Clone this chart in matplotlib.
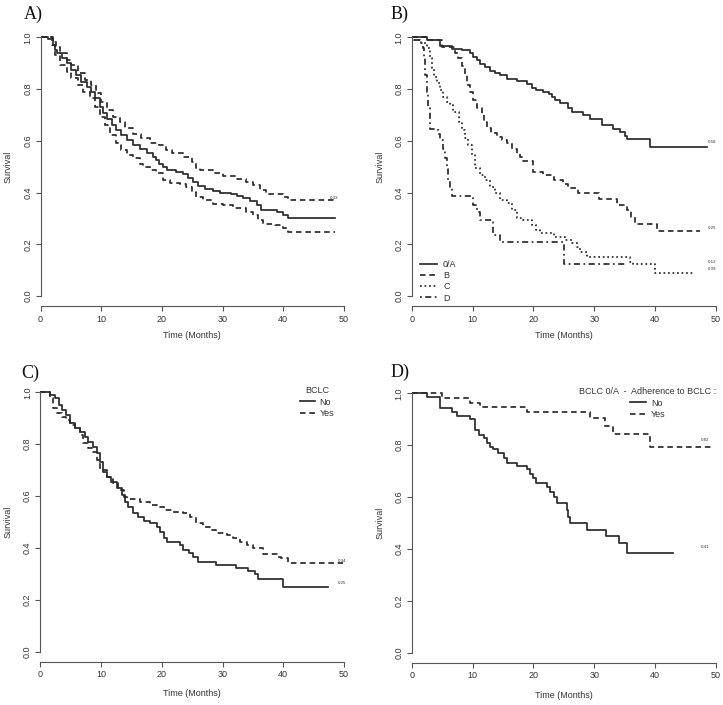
import matplotlib
matplotlib.use("Agg")
import matplotlib.pyplot as plt
from matplotlib.ticker import FormatStrFormatter

plt.rcParams['font.family'] = ['Liberation Sans', 'DejaVu Sans']

#Panel A - overall survival with confidence band
a_time = [0, 1.3, 2.1, 2.4, 2.7, 3.5, 4.3, 5.1, 5.9, 6.75, 7.6, 8.4, 9.0, 9.8, 10.3, 10.9, 11.7, 12.5, 13.3, 14.2,
          15.3, 16.4, 17.5, 18.6, 19.1, 19.6, 20.2, 20.8, 22.4, 23.5, 24.3, 25.1, 26.0, 27.1, 28.4, 29.5, 31.4,
          32.3, 33.4, 34.5, 35.6, 36.4, 38.9, 40.0, 40.8, 48.5]
a_surv = [1.0, 0.995, 0.97, 0.95, 0.938, 0.919, 0.90, 0.874, 0.854, 0.828, 0.809, 0.79, 0.764, 0.732, 0.706, 0.686,
          0.66, 0.641, 0.622, 0.603, 0.583, 0.57, 0.551, 0.538, 0.525, 0.512, 0.497, 0.486, 0.48, 0.471, 0.458,
          0.441, 0.425, 0.415, 0.406, 0.40, 0.396, 0.386, 0.377, 0.368, 0.351, 0.334, 0.325, 0.312, 0.302, 0.302]
a_up_time = [0, 2.1, 2.6, 3.2, 4.3, 5.1, 6.2, 7.3, 8.4, 9.2, 10.0, 10.9, 12.0, 13.1, 13.9, 15.3, 16.6, 18.0, 19.6,
             20.7, 21.6, 23.5, 24.9, 25.7, 26.2, 28.4, 30.1, 32.3, 33.9, 35.0, 36.1, 37.2, 40.0, 40.8, 48.5]
a_up_surv = [1.0, 0.983, 0.964, 0.938, 0.912, 0.893, 0.861, 0.835, 0.815, 0.783, 0.751, 0.719, 0.693, 0.674, 0.648,
             0.628, 0.609, 0.59, 0.583, 0.564, 0.551, 0.538, 0.519, 0.493, 0.486, 0.474, 0.463, 0.454, 0.441, 0.428,
             0.409, 0.396, 0.383, 0.373, 0.373]
a_lo_time = [0, 1.9, 2.4, 3.2, 4.3, 5.1, 6.2, 7.0, 8.1, 8.9, 9.8, 10.6, 11.4, 12.5, 13.3, 14.2, 15.3, 16.4, 16.9,
             18.0, 19.1, 20.2, 21.3, 22.9, 24.0, 24.9, 25.7, 26.8, 28.4, 30.1, 31.7, 33.9, 35.0, 35.8, 36.7, 38.6,
             40.0, 40.8, 48.5]
a_lo_surv = [1.0, 0.97, 0.932, 0.893, 0.867, 0.841, 0.815, 0.79, 0.764, 0.732, 0.693, 0.661, 0.622, 0.59, 0.564,
             0.545, 0.532, 0.512, 0.50, 0.486, 0.476, 0.45, 0.437, 0.432, 0.422, 0.403, 0.381, 0.37, 0.357, 0.351,
             0.342, 0.325, 0.312, 0.293, 0.28, 0.274, 0.261, 0.248, 0.248]

#Panel B - survival by BCLC stage
b_oa_time = [0, 2.5, 4.65, 6.6, 8.2, 9.6, 10.1, 10.7, 11.2, 12.0, 12.9, 13.7, 14.5, 15.6, 17.3, 18.9, 19.7, 20.5,
             21.6, 22.5, 23.0, 23.5, 24.4, 25.7, 26.3, 28.2, 29.3, 31.2, 33.1, 34.2, 35.0, 35.4, 39.2, 48.5]
b_oa_surv = [1.0, 0.99, 0.968, 0.955, 0.95, 0.938, 0.925, 0.912, 0.895, 0.886, 0.871, 0.863, 0.854, 0.84, 0.832,
             0.818, 0.805, 0.796, 0.787, 0.78, 0.77, 0.757, 0.745, 0.725, 0.71, 0.70, 0.684, 0.66, 0.645, 0.635,
             0.62, 0.605, 0.577, 0.577]
b_b_time = [0, 2.5, 4.9, 7.1, 7.6, 8.2, 8.8, 9.1, 9.6, 10.1, 10.8, 11.5, 11.9, 12.3, 13.1, 14.0, 14.8, 15.6, 16.4,
            17.3, 17.8, 18.2, 19.9, 21.6, 23.3, 24.9, 25.7, 27.4, 30.7, 33.7, 35.3, 36.1, 36.7, 40.3, 47.4]
b_b_surv = [1.0, 0.99, 0.964, 0.938, 0.92, 0.89, 0.854, 0.815, 0.79, 0.757, 0.725, 0.70, 0.674, 0.648, 0.632, 0.615,
            0.603, 0.59, 0.57, 0.55, 0.538, 0.52, 0.48, 0.468, 0.449, 0.434, 0.417, 0.397, 0.374, 0.352, 0.333,
            0.307, 0.277, 0.252, 0.252]
b_c_time = [0, 0.3, 1.6, 2.5, 3.0, 3.3, 3.6, 4.1, 4.65, 5.2, 5.75, 6.3, 6.8, 7.7, 8.2, 8.8, 9.3, 9.9, 10.4, 11.2,
            12.0, 12.9, 13.7, 14.5, 15.6, 16.4, 17.3, 18.3, 19.7, 20.5, 21.1, 23.3, 25.2, 26.3, 27.1, 27.7, 28.8,
            35.9, 36.4, 40.0, 46.3]
b_c_surv = [1.0, 0.99, 0.977, 0.957, 0.92, 0.88, 0.848, 0.822, 0.796, 0.77, 0.748, 0.738, 0.712, 0.674, 0.641,
            0.609, 0.583, 0.545, 0.494, 0.468, 0.449, 0.423, 0.397, 0.372, 0.359, 0.333, 0.30, 0.292, 0.275, 0.255,
            0.243, 0.227, 0.217, 0.204, 0.188, 0.172, 0.152, 0.133, 0.123, 0.09, 0.09]
b_d_time = [0, 0.3, 1.4, 1.8, 2.0, 2.2, 2.5, 2.7, 3.0, 4.4, 4.65, 5.2, 5.5, 5.75, 6.0, 6.3, 6.6, 10.1, 10.7, 11.2,
            13.4, 14.5, 25.1, 35.3]
b_d_surv = [1.0, 0.99, 0.977, 0.957, 0.92, 0.854, 0.79, 0.725, 0.645, 0.628, 0.603, 0.57, 0.532, 0.49, 0.45, 0.423,
            0.385, 0.352, 0.326, 0.294, 0.236, 0.208, 0.123, 0.123]

#Panel C - adherence to BCLC
c_no_time = [0, 1.6, 2.4, 3.0, 3.5, 4.3, 4.9, 5.7, 6.5, 7.4, 7.9, 8.7, 9.3, 9.8, 10.4, 10.9, 11.7, 12.6, 13.4, 13.9,
             14.5, 15.3, 16.1, 17.0, 18.0, 19.2, 19.7, 20.3, 20.8, 23.0, 23.5, 24.4, 25.2, 26.0, 29.0, 32.3, 34.2,
             35.3, 35.9, 40.0, 47.4]
c_no_surv = [1.0, 0.99, 0.977, 0.95, 0.93, 0.913, 0.88, 0.861, 0.848, 0.829, 0.81, 0.79, 0.765, 0.733, 0.694, 0.675,
             0.655, 0.63, 0.604, 0.578, 0.559, 0.533, 0.52, 0.505, 0.495, 0.482, 0.463, 0.437, 0.424, 0.411, 0.392,
             0.382, 0.366, 0.347, 0.334, 0.321, 0.312, 0.30, 0.279, 0.251, 0.251]
c_yes_time = [0, 1.6, 2.1, 2.7, 3.5, 4.3, 4.9, 5.7, 6.5, 7.1, 7.9, 8.7, 9.3, 9.8, 10.9, 12.0, 12.8, 13.7, 14.2, 16.4,
              18.0, 19.2, 20.3, 21.9, 23.5, 24.6, 25.7, 26.8, 27.9, 29.0, 30.7, 31.8, 32.9, 34.0, 35.1, 36.7, 38.9,
              39.7, 40.8, 49.9]
c_yes_surv = [1.0, 0.977, 0.938, 0.919, 0.906, 0.893, 0.874, 0.861, 0.835, 0.803, 0.784, 0.771, 0.739, 0.70, 0.675,
              0.649, 0.623, 0.598, 0.59, 0.578, 0.566, 0.559, 0.546, 0.54, 0.533, 0.52, 0.495, 0.482, 0.469, 0.456,
              0.45, 0.437, 0.424, 0.411, 0.398, 0.377, 0.366, 0.36, 0.341, 0.341]

#Panel D - BCLC 0/A adherence
d_no_time = [0, 2.5, 4.65, 6.6, 7.4, 9.6, 10.4, 11.0, 11.8, 12.3, 12.9, 13.4, 14.2, 15.1, 15.6, 17.3, 18.9, 19.4,
             20.0, 20.5, 22.2, 22.7, 23.3, 23.8, 25.5, 25.7, 26.0, 28.8, 32.0, 34.0, 35.3, 43.0]
d_no_surv = [1.0, 0.985, 0.942, 0.929, 0.914, 0.901, 0.859, 0.839, 0.826, 0.807, 0.794, 0.784, 0.769, 0.752, 0.733,
             0.72, 0.707, 0.689, 0.672, 0.656, 0.638, 0.621, 0.602, 0.576, 0.55, 0.524, 0.501, 0.473, 0.45, 0.422,
             0.383, 0.383]
d_yes_time = [0, 4.9, 9.6, 11.2, 18.9, 29.3, 31.8, 33.1, 39.2, 49.6]
d_yes_surv = [1.0, 0.98, 0.964, 0.946, 0.929, 0.904, 0.874, 0.843, 0.794, 0.794]

W, H = 723, 705
fig = plt.figure(figsize=(W / 100, H / 100), dpi=100)

line_col = '#2a2a2a'
axis_col = '#555555'
text_col = '#333333'
fs = 6.5
lw = 1.25
dashed = (0, (3.2, 2.2))
dotted = (0, (1, 1.6))
dotdash = (0, (1, 2, 3.5, 2))


def make_panel(x0, x50, y1, y0, letter, letter_xy, xlab_y, ylab_x):
    #pixel calibration of the 0/50 months and 1.0/0.0 survival marks
    sx = (x50 - x0) / 50.0
    sy = (y0 - y1)
    xl = (0, 51)
    yl = (-0.04, 1.02)
    left = x0 + xl[0] * sx
    right = x0 + xl[1] * sx
    top = y0 - yl[1] * sy
    bottom = y0 - yl[0] * sy
    ax = fig.add_axes([left / W, 1 - bottom / H, (right - left) / W, (bottom - top) / H])
    ax.set_xlim(*xl)
    ax.set_ylim(*yl)
    for side in ['top', 'right']:
        ax.spines[side].set_visible(False)
    ax.spines['left'].set_bounds(0, 1)
    ax.spines['bottom'].set_bounds(0, 50)
    for side in ['left', 'bottom']:
        ax.spines[side].set_color(axis_col)
        ax.spines[side].set_linewidth(0.8)
    ax.set_xticks(range(0, 51, 10))
    ax.set_yticks([0, 0.2, 0.4, 0.6, 0.8, 1.0])
    ax.yaxis.set_major_formatter(FormatStrFormatter('%.1f'))
    ax.tick_params(direction='out', length=3.5, width=0.8, color=axis_col, labelcolor=text_col,
                   labelsize=fs, pad=2.5)
    plt.setp(ax.get_yticklabels(), rotation=90, va='center')
    fig.text((x0 + 25 * sx) / W, 1 - xlab_y / H, 'Time (Months)', ha='center', va='center',
             fontsize=fs, color=text_col)
    fig.text(ylab_x / W, 1 - (y0 - 0.5 * sy) / H, 'Survival', ha='center', va='center', rotation=90,
             fontsize=fs, color=text_col)
    fig.text(letter_xy[0] / W, 1 - letter_xy[1] / H, letter, ha='left', va='center',
             fontsize=13, family='Liberation Serif', color='#111111')
    return ax


axA = make_panel(40.5, 344, 37.3, 296, 'A)', (24, 14), 336, 8.3)
axB = make_panel(411.7, 716, 37.3, 296, 'B)', (391, 14), 336, 380)
axC = make_panel(40.3, 344, 392.3, 651.7, 'C)', (21, 373), 693, 8.3)
axD = make_panel(411.7, 716, 393.3, 652.7, 'D)', (391, 372), 695, 380)

#A)
axA.plot(a_time, a_surv, drawstyle='steps-post', color=line_col, lw=lw)
axA.plot(a_up_time, a_up_surv, drawstyle='steps-post', color=line_col, lw=lw, linestyle=dashed)
axA.plot(a_lo_time, a_lo_surv, drawstyle='steps-post', color=line_col, lw=lw, linestyle=dashed)
axA.text(48.3, 0.38, '0.33', fontsize=3.2, ha='center', va='center', color=text_col)

#B)
axB.plot(b_oa_time, b_oa_surv, drawstyle='steps-post', color=line_col, lw=lw, label='0/A')
axB.plot(b_b_time, b_b_surv, drawstyle='steps-post', color=line_col, lw=lw, linestyle=dashed, label='B')
axB.plot(b_c_time, b_c_surv, drawstyle='steps-post', color=line_col, lw=lw, linestyle=dotted, label='C')
axB.plot(b_d_time, b_d_surv, drawstyle='steps-post', color=line_col, lw=lw, linestyle=dotdash, label='D')
for lab, yy in [('0.58', 0.594), ('0.25', 0.262), ('0.12', 0.133), ('0.09', 0.104)]:
    axB.text(49.3, yy, lab, fontsize=3.2, ha='center', va='center', color=text_col)
legB = axB.legend(loc='upper left', bbox_to_anchor=(1.3, 0.14), bbox_transform=axB.transData,
                  frameon=False, fontsize=fs, handlelength=1.9, handletextpad=0.7, labelspacing=0.25,
                  borderpad=0, borderaxespad=0)
for t in legB.get_texts():
    t.set_color(text_col)

#C)
axC.plot(c_no_time, c_no_surv, drawstyle='steps-post', color=line_col, lw=lw, label='No')
axC.plot(c_yes_time, c_yes_surv, drawstyle='steps-post', color=line_col, lw=lw, linestyle=dashed, label='Yes')
axC.text(49.7, 0.351, '0.34', fontsize=3.2, ha='center', va='center', color=text_col)
axC.text(49.7, 0.264, '0.25', fontsize=3.2, ha='center', va='center', color=text_col)
legC = axC.legend(loc='upper center', bbox_to_anchor=(45.6, 1.025), bbox_transform=axC.transData,
                  title='BCLC', title_fontsize=fs, frameon=False, fontsize=fs, handlelength=1.6,
                  handletextpad=0.5, labelspacing=0.3, borderpad=0, borderaxespad=0)
plt.setp(legC.get_texts(), color=text_col)
legC.get_title().set_color(text_col)

#D)
axD.plot(d_no_time, d_no_surv, drawstyle='steps-post', color=line_col, lw=lw, label='No')
axD.plot(d_yes_time, d_yes_surv, drawstyle='steps-post', color=line_col, lw=lw, linestyle=dashed, label='Yes')
axD.text(48.2, 0.82, '0.82', fontsize=3.2, ha='center', va='center', color=text_col)
axD.text(48.2, 0.406, '0.41', fontsize=3.2, ha='center', va='center', color=text_col)
legD = axD.legend(loc='upper center', bbox_to_anchor=(38.8, 1.025), bbox_transform=axD.transData,
                  title='BCLC 0/A  -  Adherence to BCLC :', title_fontsize=fs, frameon=False, fontsize=fs,
                  handlelength=1.8, handletextpad=0.5, labelspacing=0.3, borderpad=0, borderaxespad=0)
plt.setp(legD.get_texts(), color=text_col)
legD.get_title().set_color(text_col)

fig.savefig('out.png', dpi=100)
